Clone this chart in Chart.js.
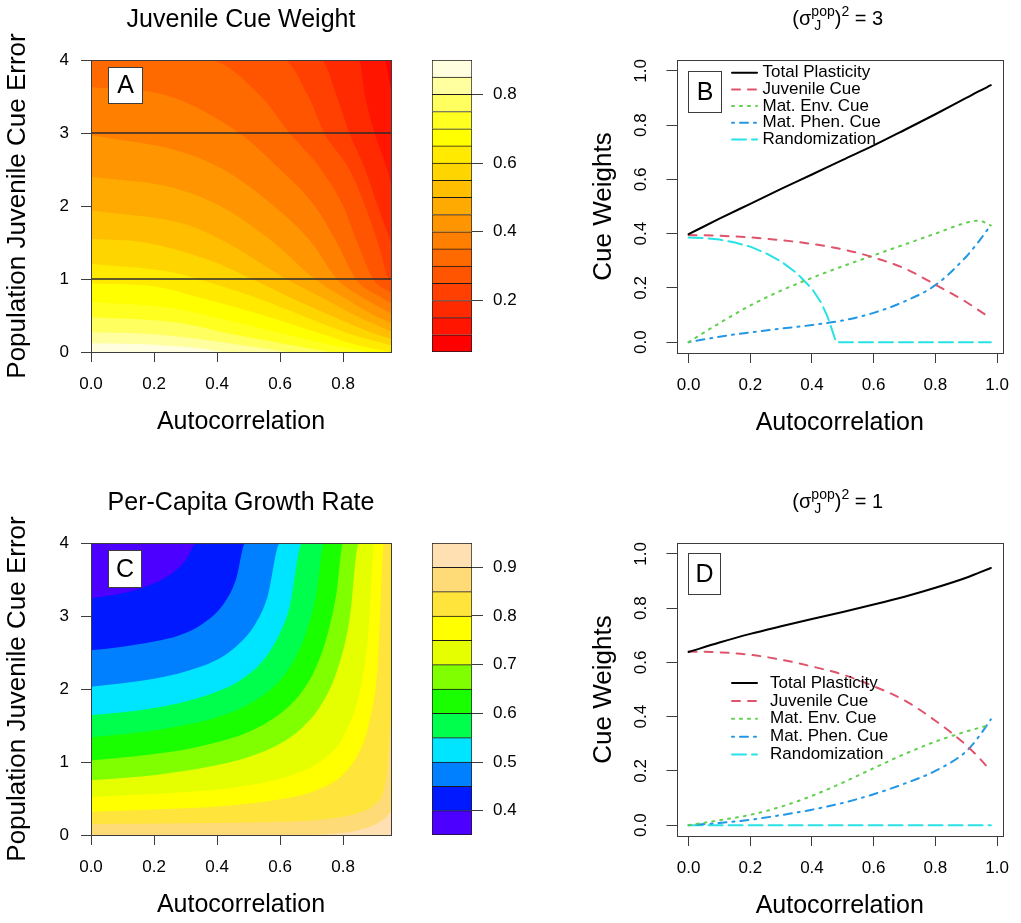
<!DOCTYPE html>
<html lang="en">
<head>
<meta charset="utf-8">
<title>Juvenile cue weight and growth rate</title>
<script src="https://cdn.jsdelivr.net/npm/chart.js@4.4.1/dist/chart.umd.min.js"></script>
<style>
  html, body { margin: 0; padding: 0; background: #ffffff; }
  #figure { position: relative; width: 1021px; height: 923px; overflow: hidden; }
  #figure canvas { position: absolute; }
</style>
</head>
<body>
<div id="figure">
  <canvas id="cueMap" width="425" height="440" style="left:0px;top:0px"></canvas>
  <canvas id="cueKey" width="100" height="440" style="left:425px;top:0px"></canvas>
  <canvas id="weights3" width="496" height="440" style="left:525px;top:0px"></canvas>
  <canvas id="growthMap" width="425" height="440" style="left:0px;top:483px"></canvas>
  <canvas id="growthKey" width="100" height="440" style="left:425px;top:483px"></canvas>
  <canvas id="weights1" width="496" height="440" style="left:525px;top:483px"></canvas>
</div>
<script>
const FONT = '"Liberation Sans", Arial, Helvetica, sans-serif';

// ---- Panel A: juvenile cue weight, contour lines [autocorrelation, error] ----
const cueBreaks = [0.05, 0.10, 0.15, 0.20, 0.25, 0.30, 0.35, 0.40, 0.45, 0.50,
                   0.55, 0.60, 0.65, 0.70, 0.75, 0.80, 0.85, 0.90];
const cue10 = [[0, 4], [0.93, 4], [0.952, 3.6]];
const cue15 = [[0, 4], [0.85, 4], [0.87, 3.5], [0.9, 3.0], [0.94, 2.5], [0.952, 2.3]];
const cue20 = [[0, 4], [0.73, 4], [0.78, 3.5], [0.82, 3.0], [0.87, 2.5], [0.91, 2.0], [0.952, 1.5]];
const cue25 = [[0, 4], [0.61, 4], [0.69, 3.5], [0.74, 3.0], [0.82, 2.5], [0.87, 2.0], [0.91, 1.5], [0.945, 1.0], [0.952, 0.98]];
const cue30 = [[0, 4], [0.37, 4], [0.54, 3.5], [0.63, 3.0], [0.73, 2.5], [0.80, 2.0], [0.845, 1.5], [0.895, 1.0], [0.952, 0.81]];
const cue35 = [[0, 3.63], [0.25, 3.5], [0.47, 3.0], [0.60, 2.5], [0.71, 2.0], [0.78, 1.5], [0.84, 1.0], [0.92, 0.75], [0.952, 0.67]];
const cue40 = [[0, 2.97], [0.28, 2.75], [0.42, 2.5], [0.58, 2.0], [0.70, 1.5], [0.78, 1.0], [0.86, 0.75], [0.952, 0.53]];
const cue45 = [[0, 2.4], [0.26, 2.25], [0.41, 2.0], [0.58, 1.5], [0.71, 1.0], [0.8, 0.75], [0.9, 0.5], [0.952, 0.4]];
const cue50 = [[0, 1.94], [0.3, 1.75], [0.43, 1.5], [0.62, 1.0], [0.73, 0.75], [0.84, 0.5], [0.952, 0.28]];
const cue55 = [[0, 1.55], [0.17, 1.5], [0.38, 1.25], [0.51, 1.0], [0.63, 0.75], [0.76, 0.5], [0.9, 0.25], [0.952, 0.18]];
const cue60 = [[0, 1.21], [0.25, 1.1], [0.34, 1.0], [0.52, 0.75], [0.67, 0.5], [0.82, 0.25], [0.952, 0.09]];
const cue65 = [[0, 0.94], [0.2, 0.9], [0.34, 0.75], [0.55, 0.5], [0.73, 0.25], [0.84, 0.1], [0.95, 0]];
const cue70 = [[0, 0.69], [0.26, 0.6], [0.37, 0.5], [0.61, 0.25], [0.76, 0.1], [0.88, 0]];
const cue75 = [[0, 0.48], [0.28, 0.4], [0.44, 0.25], [0.63, 0.1], [0.76, 0]];
const cue80 = [[0, 0.27], [0.17, 0.25], [0.3, 0.2], [0.47, 0.1], [0.62, 0]];
const cue85 = [[0, 0.12], [0.2, 0.1], [0.32, 0.06], [0.42, 0]];
const cueContours = [cue10, cue15, cue20, cue25, cue30, cue35, cue40, cue45,
                     cue50, cue55, cue60, cue65, cue70, cue75, cue80, cue85];
const cueRefLines = [3, 1];   // the two error values shown in B and D

// ---- Panel C: per-capita growth rate, contour lines ----
const growthBreaks = [0.35, 0.40, 0.45, 0.50, 0.55, 0.60, 0.65, 0.70, 0.75, 0.80, 0.85, 0.90, 0.95];
const gr40 = [[0, 3.24], [0.1, 3.31], [0.18, 3.41], [0.25, 3.56], [0.3, 3.76], [0.336, 4], [0.952, 4]];
const gr45 = [[0, 2.53], [0.1, 2.58], [0.2, 2.65], [0.283, 2.74], [0.35, 2.88], [0.42, 3.16], [0.46, 3.5], [0.49, 4], [0.952, 4]];
const gr50 = [[0, 2.03], [0.1, 2.08], [0.2, 2.14], [0.3, 2.24], [0.39, 2.38], [0.46, 2.58], [0.52, 2.88], [0.56, 3.26], [0.6, 4], [0.952, 4]];
const gr55 = [[0, 1.64], [0.1, 1.68], [0.2, 1.74], [0.3, 1.83], [0.39, 1.95], [0.47, 2.11], [0.55, 2.41], [0.6, 2.77], [0.63, 3.12], [0.67, 4], [0.952, 4]];
const gr60 = [[0, 1.34], [0.1, 1.38], [0.2, 1.43], [0.3, 1.51], [0.39, 1.6], [0.5, 1.79], [0.6, 2.12], [0.65, 2.44], [0.685, 2.8], [0.715, 3.3], [0.74, 4], [0.952, 4]];
const gr65 = [[0, 1.02], [0.1, 1.06], [0.2, 1.11], [0.3, 1.17], [0.39, 1.26], [0.5, 1.41], [0.6, 1.66], [0.66, 1.91], [0.71, 2.26], [0.75, 2.74], [0.78, 3.34], [0.8, 4], [0.952, 4]];
const gr70 = [[0, 0.75], [0.1, 0.78], [0.2, 0.82], [0.3, 0.88], [0.39, 0.95], [0.5, 1.07], [0.6, 1.25], [0.67, 1.47], [0.73, 1.78], [0.78, 2.24], [0.82, 2.94], [0.85, 4], [0.952, 4]];
const gr75 = [[0, 0.52], [0.2, 0.56], [0.3, 0.59], [0.4, 0.62], [0.5, 0.68], [0.6, 0.77], [0.7, 0.93], [0.76, 1.12], [0.8, 1.34], [0.85, 1.91], [0.88, 2.74], [0.9, 4], [0.952, 4]];
const gr80 = [[0, 0.32], [0.2, 0.35], [0.4, 0.39], [0.5, 0.43], [0.6, 0.49], [0.7, 0.59], [0.8, 0.83], [0.85, 1.13], [0.88, 1.49], [0.91, 2.33], [0.93, 4], [0.952, 4]];
const gr85 = [[0, 0.15], [0.3, 0.16], [0.5, 0.17], [0.6, 0.18], [0.7, 0.2], [0.8, 0.25], [0.85, 0.3], [0.9, 0.42], [0.93, 0.62], [0.94, 0.89], [0.952, 1.6]];
const gr90 = [[0.72, 0], [0.8, 0.03], [0.86, 0.08], [0.9, 0.14], [0.93, 0.22], [0.952, 0.32]];
const growthContours = [gr40, gr45, gr50, gr55, gr60, gr65, gr70, gr75, gr80, gr85, gr90];

// ---- Panels B and D: cue weights against autocorrelation ----
const autoX = [0, 0.1, 0.2, 0.3, 0.4, 0.5, 0.6, 0.7, 0.8, 0.9, 0.94, 0.98];
const totalB = [0.398, 0.455, 0.51, 0.565, 0.618, 0.672, 0.725, 0.782, 0.84, 0.9, 0.924, 0.947];
const juvB   = [0.395, 0.392, 0.386, 0.376, 0.362, 0.342, 0.312, 0.272, 0.212, 0.148, 0.118, 0.088];
const envB   = [0, 0.07, 0.135, 0.19, 0.237, 0.28, 0.32, 0.36, 0.40, 0.44, 0.448, 0.43];
const phenB  = [0, 0.02, 0.036, 0.05, 0.063, 0.08, 0.108, 0.15, 0.21, 0.315, 0.37, 0.432];
const randXB = [0, 0.05, 0.1, 0.15, 0.2, 0.25, 0.3, 0.35, 0.4, 0.43, 0.45, 0.465, 0.478, 0.98];
const randB  = [0.386, 0.384, 0.378, 0.367, 0.352, 0.328, 0.297, 0.255, 0.197, 0.145, 0.095, 0.045, 0, 0];

const totalD = [0.638, 0.673, 0.705, 0.733, 0.76, 0.786, 0.813, 0.842, 0.875, 0.912, 0.93, 0.948];
const juvD   = [0.64, 0.637, 0.628, 0.61, 0.585, 0.555, 0.512, 0.46, 0.385, 0.295, 0.25, 0.2];
const envD   = [0, 0.018, 0.038, 0.068, 0.108, 0.157, 0.21, 0.262, 0.308, 0.345, 0.358, 0.37];
const phenD  = [0, 0.008, 0.02, 0.037, 0.057, 0.082, 0.114, 0.153, 0.2, 0.272, 0.325, 0.39];
const randD  = [0, 0, 0, 0, 0, 0, 0, 0, 0, 0, 0, 0];

// ---- tick labels ----
const mapXTicks = [0, 0.2, 0.4, 0.6, 0.8];
const mapYTicks = [0, 1, 2, 3, 4];
const cueKeyTicks = [0.2, 0.4, 0.6, 0.8];
const growthKeyTicks = [0.4, 0.5, 0.6, 0.7, 0.8, 0.9];
const weightTicks = [0, 0.2, 0.4, 0.6, 0.8, 1];

// ---- styles ----
const heatColors = ['#FF0000', '#FF1500', '#FF2A00', '#FF4000', '#FF5500', '#FF6A00', '#FF8000',
  '#FF9500', '#FFAA00', '#FFBF00', '#FFD500', '#FFEA00', '#FFFF00', '#FFFF20', '#FFFF60',
  '#FFFF9F', '#FFFFDF'];
const topoColors = ['#4C00FF', '#0019FF', '#0080FF', '#00E5FF', '#00FF4D', '#1AFF00',
  '#80FF00', '#E6FF00', '#FFFF00', '#FFE53B', '#FFDB77', '#FFE0B3'];
const cueStyles = [
  { label: 'Total Plasticity', color: '#000000', dash: [] },
  { label: 'Juvenile Cue', color: '#DF536B', dash: [8, 8] },
  { label: 'Mat. Env. Cue', color: '#61D04F', dash: [2, 6] },
  { label: 'Mat. Phen. Cue', color: '#2297E6', dash: [2, 6, 8, 6] },
  { label: 'Randomization', color: '#28E2E5', dash: [14, 6] }
];
const mapXMax = 0.952;
const frameColor = '#3c3c3c';

const pts = arr => arr.map(p => ({ x: p[0], y: p[1] }));
const zip = (xs, ys) => xs.map((x, i) => ({ x: x, y: ys[i] }));
const fixTicks = vals => scale => { scale.ticks = vals.map(v => ({ value: v })); };

function drawSigma(ctx, cx, base, val) {
  const big = '20px ' + FONT, small = '14px ' + FONT;
  ctx.font = big;
  const w1 = ctx.measureText('(').width, wS = ctx.measureText('\u03C3').width;
  const wR = ctx.measureText(')').width, wEq = ctx.measureText(' = ' + val).width;
  ctx.font = small;
  const wPop = ctx.measureText('pop').width, wJ = ctx.measureText('J').width;
  const w2 = ctx.measureText('2').width;
  const wScript = Math.max(wPop, wJ + 3);
  let x = cx - (w1 + wS + wScript + wR + w2 + wEq) / 2;
  ctx.textAlign = 'left';
  ctx.textBaseline = 'alphabetic';
  ctx.font = big;
  ctx.fillText('(', x, base); x += w1;
  ctx.fillText('\u03C3', x, base); x += wS;
  ctx.font = small;
  ctx.fillText('pop', x, base - 9);
  ctx.fillText('J', x + 3, base + 5);
  x += wScript;
  ctx.font = big;
  ctx.fillText(')', x, base); x += wR;
  ctx.font = small;
  ctx.fillText('2', x, base - 9); x += w2;
  ctx.font = big;
  ctx.fillText(' = ' + val, x, base);
}

// frame, titles, axis labels, panel letter and legend
const decoPlugin = {
  id: 'deco',
  afterDraw(chart, args, o) {
    const ctx = chart.ctx;
    const a = chart.chartArea;
    const cx = (a.left + a.right) / 2;
    ctx.save();
    ctx.setLineDash([]);
    ctx.strokeStyle = frameColor;
    ctx.lineWidth = 1;
    ctx.strokeRect(Math.round(a.left) + 0.5, Math.round(a.top) + 0.5,
      Math.round(a.right) - Math.round(a.left), Math.round(a.bottom) - Math.round(a.top));

    ctx.fillStyle = '#000';
    ctx.textAlign = 'center';
    ctx.textBaseline = 'middle';
    ctx.font = '25px ' + FONT;
    ctx.fillText(o.xLabel, cx, a.bottom + 70);
    ctx.save();
    ctx.font = '26px ' + FONT;
    ctx.translate(a.left - 73, (a.top + a.bottom) / 2);
    ctx.rotate(-Math.PI / 2);
    ctx.fillText(o.yLabel, 0, 0);
    ctx.restore();

    if (o.title) {
      ctx.textBaseline = 'alphabetic';
      ctx.fillText(o.title, cx, a.top - 33);
    }
    if (o.sigma) drawSigma(ctx, cx - 2, a.top - 35, o.sigma);

    if (o.yTicks) {
      const ys = chart.scales.y;
      ctx.font = '17px ' + FONT;
      ctx.textAlign = 'center';
      ctx.textBaseline = 'middle';
      o.yTicks.forEach(v => {
        ctx.save();
        ctx.translate(a.left - 35.5, ys.getPixelForValue(v));
        ctx.rotate(-Math.PI / 2);
        ctx.fillText(v.toFixed(1), 0, 0);
        ctx.restore();
      });
    }

    const lt = o.letter;
    const bx = Math.round(a.left + lt.dx) + 0.5, by = Math.round(a.top + lt.dy) + 0.5;
    ctx.fillStyle = '#fff';
    ctx.fillRect(bx, by, lt.w, lt.h);
    ctx.strokeStyle = frameColor;
    ctx.strokeRect(bx, by, lt.w, lt.h);
    ctx.fillStyle = '#000';
    ctx.font = '25px ' + FONT;
    ctx.textAlign = 'center';
    ctx.textBaseline = 'middle';
    ctx.fillText(lt.text, bx + lt.w / 2, by + lt.h / 2 + 1);

    if (o.legend) {
      const lg = o.legend;
      ctx.lineCap = 'round';
      chart.data.datasets.forEach((ds, i) => {
        const y = a.top + lg.top + i * lg.step;
        ctx.strokeStyle = ds.borderColor;
        ctx.lineWidth = ds.borderWidth;
        ctx.setLineDash(ds.borderDash);
        ctx.beginPath();
        ctx.moveTo(a.left + lg.lineX, y);
        ctx.lineTo(a.left + lg.lineX + 25, y);
        ctx.stroke();
        ctx.setLineDash([]);
        ctx.fillStyle = '#000';
        ctx.font = '17px ' + FONT;
        ctx.textAlign = 'left';
        ctx.textBaseline = 'middle';
        ctx.fillText(ds.label, a.left + lg.textX, y);
      });
    }
    ctx.restore();
  }
};

function axisStyle(extra) {
  return Object.assign({
    type: 'linear',
    bounds: 'data',
    grid: { drawOnChartArea: false, drawTicks: true, tickLength: 10, color: frameColor },
    border: { display: false },
    ticks: { color: '#000', font: { size: 17, family: FONT }, autoSkip: false, maxRotation: 0 }
  }, extra);
}

function mapChart(id, contours, colors, refLines, deco) {
  const datasets = [{ data: pts([[0, 4], [mapXMax, 4]]), fill: 'origin', backgroundColor: colors[0], order: 100 }];
  contours.forEach((c, i) => {
    datasets.push({
      data: pts(c), fill: 'origin', backgroundColor: colors[i + 1],
      order: 50 - i, cubicInterpolationMode: 'monotone'
    });
  });
  refLines.forEach(y => {
    datasets.push({
      data: pts([[0, y], [mapXMax, y]]), fill: false,
      borderColor: '#2b2b2b', borderWidth: 1.5, order: 0, clip: 4
    });
  });
  const xAxis = axisStyle({ min: 0, max: mapXMax, afterBuildTicks: fixTicks(mapXTicks), afterFit: s => { s.height = 88; } });
  xAxis.ticks.padding = 12;
  xAxis.ticks.callback = v => v.toFixed(1);
  const yAxis = axisStyle({ min: 0, max: 4, afterBuildTicks: fixTicks(mapYTicks), afterFit: s => { s.width = 91; } });
  yAxis.ticks.padding = 12;
  yAxis.ticks.callback = v => String(v);
  return new Chart(document.getElementById(id), {
    type: 'line',
    data: { datasets: datasets },
    plugins: [decoPlugin],
    options: {
      responsive: false, animation: false, events: [],
      layout: { padding: { top: 60, right: 34, left: 0, bottom: 0 } },
      elements: { point: { radius: 0 }, line: { borderWidth: 0, borderColor: 'rgba(0,0,0,0)' } },
      plugins: { legend: { display: false }, tooltip: { enabled: false }, deco: deco },
      scales: { x: xAxis, y: yAxis }
    }
  });
}

function keyChart(id, breaks, colors, ticks) {
  const datasets = colors.map((c, i) => ({
    data: [[breaks[i], breaks[i + 1]]],
    backgroundColor: c,
    borderColor: '#1a1a1a',
    borderWidth: { top: 1, left: 1, right: 1, bottom: i === 0 ? 1 : 0 },
    borderSkipped: false, grouped: false, barPercentage: 1, categoryPercentage: 1
  }));
  const yAxis = axisStyle({
    position: 'right', min: breaks[0], max: breaks[breaks.length - 1],
    afterBuildTicks: fixTicks(ticks), afterFit: s => { s.width = 53; }
  });
  yAxis.grid.tickLength = 11;
  yAxis.ticks.padding = 10;
  yAxis.ticks.callback = v => v.toFixed(1);
  return new Chart(document.getElementById(id), {
    type: 'bar',
    data: { labels: ['key'], datasets: datasets },
    options: {
      responsive: false, animation: false, events: [],
      layout: { padding: { left: 7, top: 60, bottom: 88, right: 0 } },
      plugins: { legend: { display: false }, tooltip: { enabled: false } },
      scales: { x: { display: false }, y: yAxis }
    }
  });
}

function weightChart(id, series, deco) {
  const datasets = series.map((s, i) => ({
    label: cueStyles[i].label,
    data: s,
    borderColor: cueStyles[i].color,
    borderDash: cueStyles[i].dash,
    borderWidth: 2,
    borderCapStyle: 'round',
    pointRadius: 0,
    fill: false,
    cubicInterpolationMode: i === 4 ? 'default' : 'monotone',
    tension: 0
  }));
  const xAxis = axisStyle({ min: -0.0392, max: 1.0192, afterBuildTicks: fixTicks(weightTicks), afterFit: s => { s.height = 87; } });
  xAxis.ticks.padding = 12;
  xAxis.ticks.callback = v => v.toFixed(1);
  const yAxis = axisStyle({ min: -0.04, max: 1.04, afterBuildTicks: fixTicks(weightTicks), afterFit: s => { s.width = 151.5; } });
  yAxis.ticks.callback = () => '';
  return new Chart(document.getElementById(id), {
    type: 'line',
    data: { datasets: datasets },
    plugins: [decoPlugin],
    options: {
      responsive: false, animation: false, events: [],
      layout: { padding: { top: 60, right: 8, left: 0, bottom: 0 } },
      plugins: { legend: { display: false }, tooltip: { enabled: false }, deco: deco },
      scales: { x: xAxis, y: yAxis }
    }
  });
}

mapChart('cueMap', cueContours, heatColors, cueRefLines, {
  title: 'Juvenile Cue Weight', xLabel: 'Autocorrelation', yLabel: 'Population Juvenile Cue Error',
  letter: { text: 'A', dx: 17, dy: 7, w: 34, h: 36 }
});
keyChart('cueKey', cueBreaks, heatColors, cueKeyTicks);

mapChart('growthMap', growthContours, topoColors, [], {
  title: 'Per-Capita Growth Rate', xLabel: 'Autocorrelation', yLabel: 'Population Juvenile Cue Error',
  letter: { text: 'C', dx: 17, dy: 7, w: 33, h: 37 }
});
keyChart('growthKey', growthBreaks, topoColors, growthKeyTicks);

weightChart('weights3', [zip(autoX, totalB), zip(autoX, juvB), zip(autoX, envB), zip(autoX, phenB), zip(randXB, randB)], {
  sigma: '3', xLabel: 'Autocorrelation', yLabel: 'Cue Weights', yTicks: weightTicks,
  letter: { text: 'B', dx: 11.5, dy: 11, w: 33, h: 41 },
  legend: { lineX: 55.5, textX: 86, top: 12.7, step: 16.7 }
});

weightChart('weights1', [zip(autoX, totalD), zip(autoX, juvD), zip(autoX, envD), zip(autoX, phenD), zip(autoX, randD)], {
  sigma: '1', xLabel: 'Autocorrelation', yLabel: 'Cue Weights', yTicks: weightTicks,
  letter: { text: 'D', dx: 11.5, dy: 10, w: 32, h: 41 },
  legend: { lineX: 55.5, textX: 93.5, top: 140, step: 17.9 }
});
</script>
</body>
</html>
